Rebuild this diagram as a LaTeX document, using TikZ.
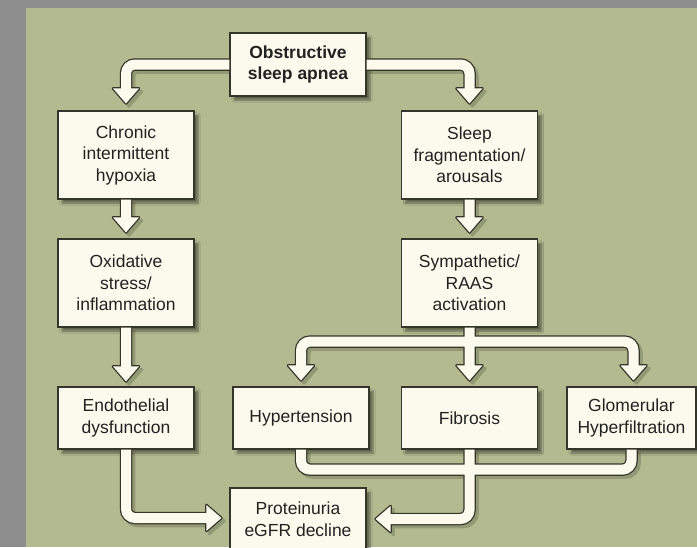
\documentclass[tikz,border=0pt]{standalone}
\usepackage{fontspec}
\setmainfont{Liberation Sans}
\usetikzlibrary{calc, shadows.blur}

\definecolor{marble}{HTML}{8E8E8E}
\definecolor{olive}{HTML}{B3BA90}
\definecolor{shade}{HTML}{929975}
\definecolor{cream}{HTML}{FCFAEC}
\definecolor{edge}{HTML}{34362A}
\definecolor{ink}{HTML}{222222}

\pgfdeclarelayer{bg}
\pgfsetlayers{bg,main}

\tikzset{
  box/.style={draw=edge, line width=1.2pt, fill=cream, text=ink, align=center,
    minimum width=136pt, inner sep=0pt, font=\fontsize{17.5}{21.5}\selectfont,
    blur shadow={shadow xshift=4pt, shadow yshift=-4pt, shadow opacity=45, shadow blur steps=6}},
  pipeout/.style={draw=edge, line width=12.5pt, rounded corners=9pt},
  pipein/.style={draw=cream, line width=10pt, rounded corners=9pt},
}

% all shafts, drawn twice (outline, then fill)
\newcommand{\shafts}{
  (osa.west) -| ($(a1)+(0,-12)$)
  (osa.east) -| ($(a2)+(0,-12)$)
  (cih.south) -- ($(a3)+(0,-12)$)
  (oxi.south) -- ($(a4)+(0,-12)$)
  (frag.south) -- ($(a5)+(0,-12)$)
  (sym.south) -- ($(a7)+(0,-12)$)
  ($(a6)+(0,-12)$) |- (split) -| ($(a8)+(0,-12)$)
  (htn.south) |- (join) -| (gh.south)
  (endo.south) |- ($(a9)+(-12,0)$)
  (fib.south) |- ($(a10)+(12,0)$)
}
\newcommand{\tips}[1]{
  \foreach \p/\u/\v in {a1/0/-1, a2/0/-1, a3/0/-1, a4/0/-1, a5/0/-1,
                        a6/0/-1, a7/0/-1, a8/0/-1, a9/-1/0, a10/1/0}
    {\path[#1] (\p) -- ++({15*\u+13*\v},{15*\v+13*\u}) -- ++({-26*\v},{-26*\u}) -- cycle;}
}

\begin{document}
\begin{tikzpicture}[x=1pt, y=-1pt]
  \useasboundingbox (0,0) rectangle (697,547);

  % boxes
  \node[box, minimum height=63pt, font=\fontsize{17.5}{21.5}\selectfont\bfseries] (osa) at (298,64.5) {Obstructive\\sleep apnea};
  \node[box, minimum height=88pt] (cih) at (126,155) {Chronic\\intermittent\\hypoxia};
  \node[box, minimum height=88pt] (oxi) at (126,283) {Oxidative\\stress/\\inflammation};
  \node[box, minimum height=62pt] (endo) at (126,418) {Endothelial\\dysfunction};
  \node[box, minimum height=88pt] (frag) at (469.5,155) {Sleep\\fragmentation/\\arousals};
  \node[box, minimum height=88pt] (sym) at (469.5,283) {Sympathetic/\\RAAS\\activation};
  \node[box, minimum height=62pt] (htn) at (301,418) {Hypertension};
  \node[box, minimum height=62pt] (fib) at (469.5,418) {Fibrosis};
  \node[box, minimum height=62pt, minimum width=129pt] (gh) at (631.5,418) {Glomerular\\Hyperfiltration};
  \node[box, minimum height=62pt] (prot) at (298,519) {Proteinuria\\eGFR decline};

  % arrow tips and bends
  \coordinate (a1) at ($(cih.north)+(0,-7)$);
  \coordinate (a2) at ($(frag.north)+(0,-7)$);
  \coordinate (a3) at ($(oxi.north)+(0,-6)$);
  \coordinate (a4) at ($(endo.north)+(0,-5)$);
  \coordinate (a5) at ($(sym.north)+(0,-6)$);
  \coordinate (a6) at ($(htn.north)+(0,-6)$);
  \coordinate (a7) at ($(fib.north)+(0,-6)$);
  \coordinate (a8) at ($(gh.north)+(2,-6)$);
  \coordinate (a9) at ($(prot.west)+(-8,-1)$);
  \coordinate (a10) at ($(prot.east)+(9,0)$);
  \coordinate (split) at ($(sym.south)+(0,14)$);
  \coordinate (join) at ($(fib.south)+(0,20)$);

  \begin{pgfonlayer}{bg}
    \fill[marble] (0,0) rectangle (697,547);
    \fill[olive] (26,8) rectangle (697,547);
    \begin{scope}[transform canvas={xshift=3pt, yshift=-3pt}]
      \draw[pipeout, draw=shade] \shafts;
      \tips{fill=shade, draw=shade, line width=2.6pt, line join=round}
    \end{scope}
  \end{pgfonlayer}

  % connectors
  \draw[pipeout] \shafts;
  \tips{fill=edge, draw=edge, line width=2.6pt, line join=round}
  \draw[pipein] \shafts;
  \tips{fill=cream}
\end{tikzpicture}
\end{document}
